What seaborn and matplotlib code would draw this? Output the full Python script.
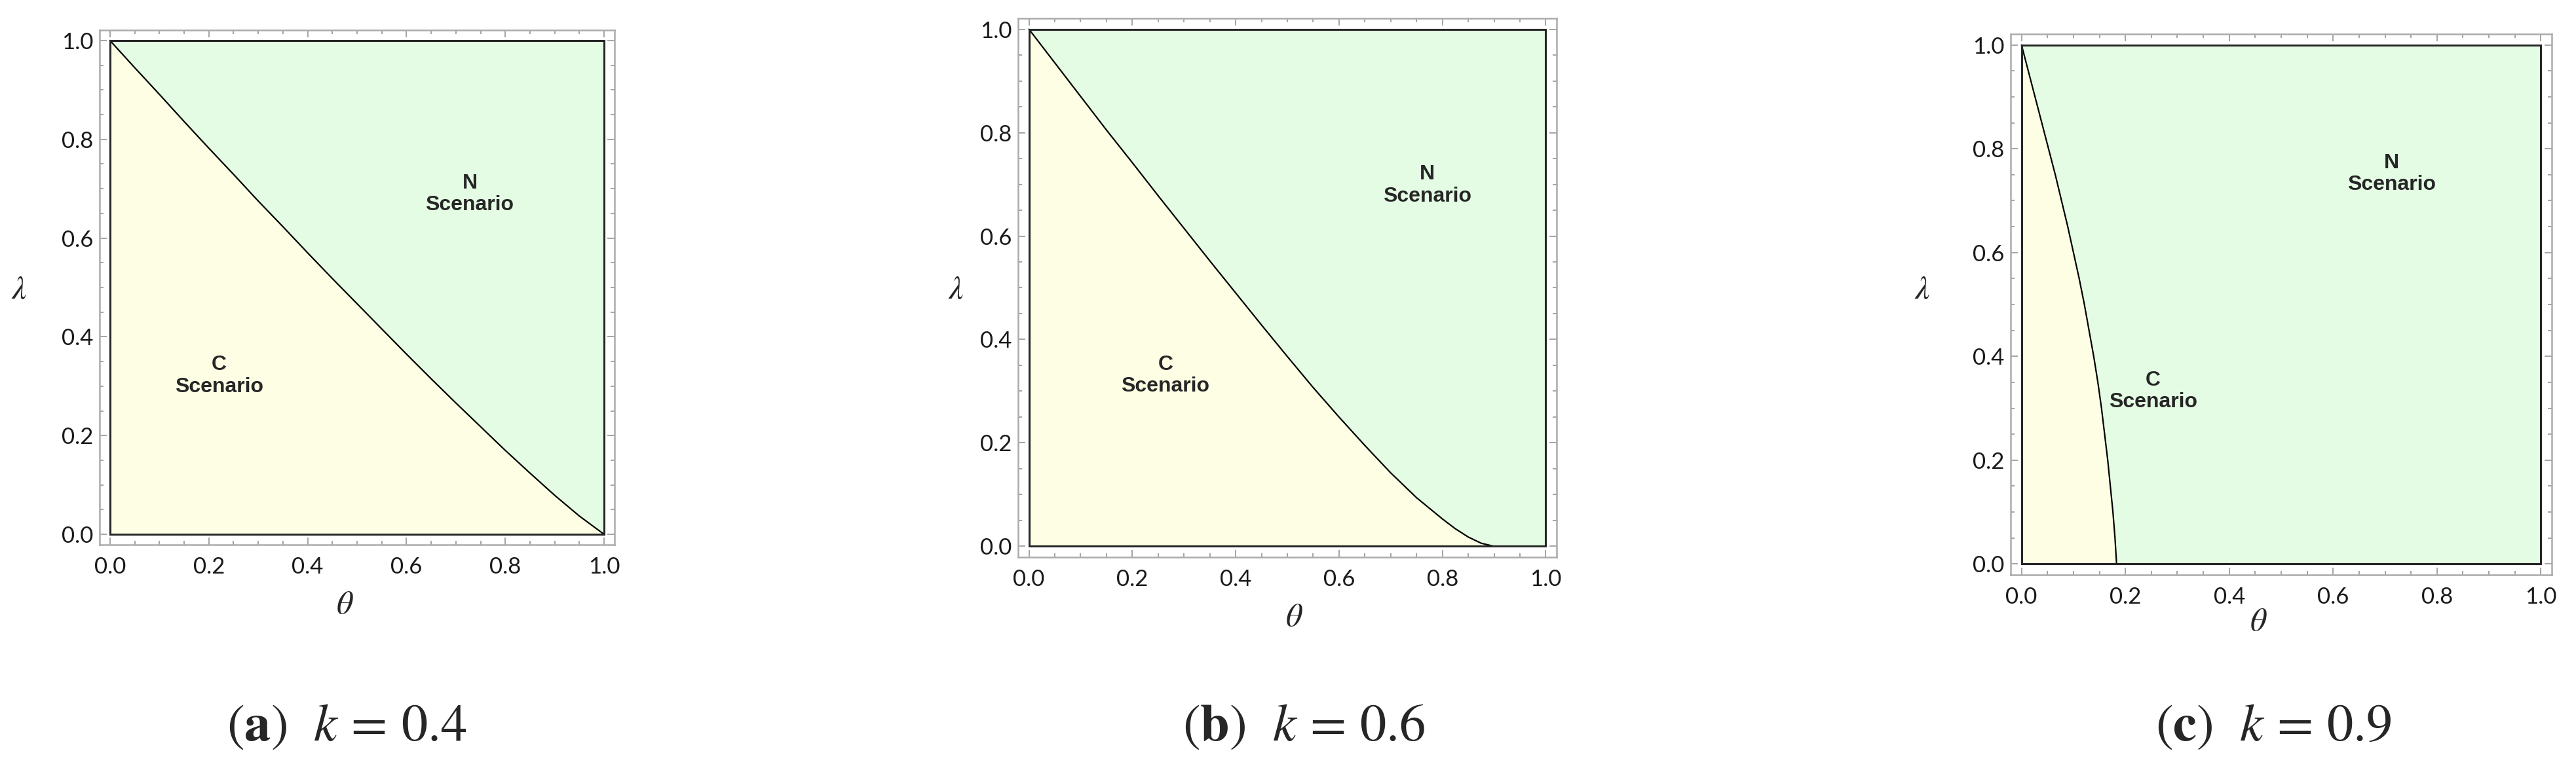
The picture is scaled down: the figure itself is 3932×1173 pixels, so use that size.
import numpy as np
import pandas as pd
import matplotlib
matplotlib.use("Agg")
import matplotlib.pyplot as plt
from matplotlib.ticker import MultipleLocator, FormatStrFormatter
from matplotlib.patches import Rectangle
import seaborn as sns

# ---------------- data ----------------
k_values = [0.4, 0.6, 0.9]
panel_letters = ["a", "b", "c"]

# panel (a): boundary lambda(theta)
theta_a = [0.0, 0.05, 0.1, 0.15, 0.2, 0.25, 0.3, 0.35, 0.4, 0.45, 0.5,
           0.55, 0.6, 0.65, 0.7, 0.75, 0.8, 0.85, 0.9, 0.95, 1.0]
lam_a = [1.0, 0.945, 0.891, 0.836, 0.782, 0.729, 0.675, 0.623, 0.570, 0.518, 0.467,
         0.416, 0.365, 0.315, 0.266, 0.218, 0.170, 0.124, 0.079, 0.037, 0.0]

# panel (b): boundary lambda(theta), reaches 0 at theta ~ 0.9
theta_b = [0.0, 0.05, 0.1, 0.15, 0.2, 0.25, 0.3, 0.35, 0.4, 0.45, 0.5,
           0.55, 0.6, 0.65, 0.7, 0.75, 0.8, 0.825, 0.85, 0.875, 0.9]
lam_b = [1.0, 0.935, 0.870, 0.805, 0.742, 0.678, 0.615, 0.552, 0.490, 0.428, 0.367,
         0.307, 0.250, 0.195, 0.142, 0.094, 0.053, 0.034, 0.018, 0.006, 0.0]

# panel (c): boundary theta(lambda)
lam_c = [1.0, 0.95, 0.9, 0.85, 0.8, 0.75, 0.7, 0.65, 0.6, 0.55, 0.5,
         0.45, 0.4, 0.35, 0.3, 0.25, 0.2, 0.15, 0.1, 0.05, 0.0]
theta_c = [0.0, 0.013, 0.026, 0.039, 0.052, 0.065, 0.077, 0.089, 0.100, 0.111, 0.121,
           0.130, 0.139, 0.147, 0.154, 0.160, 0.166, 0.171, 0.176, 0.180, 0.183]

region_labels = ["N\nScenario", "C\nScenario"]
# label anchor positions (theta, lambda) per panel
n_label_pos = [(0.728, 0.689), (0.771, 0.698), (0.713, 0.752)]
c_label_pos = [(0.221, 0.321), (0.264, 0.330), (0.253, 0.333)]

tick_values = [0.0, 0.2, 0.4, 0.6, 0.8, 1.0]

# ---------------- style ----------------
sns.set_theme(style="white")
plt.rcParams["font.family"] = ["Lato", "DejaVu Sans"]
plt.rcParams["mathtext.fontset"] = "stix"

YELLOW = "#FEFEE4"
GREEN = "#E4FCE4"
FRAME_GRAY = "#ABABAB"
TICK_GRAY = "#8C8C8C"

W, H = 3932, 1173
fig = plt.figure(figsize=(W / 100, H / 100), dpi=100)

# axes boxes in pixels: (left, top, width, height)
boxes = [(152, 46, 786, 786), (1554, 28, 822, 823), (3069, 52, 826, 826)]
lambda_pos = [(-0.156, 0.496), (-0.116, 0.497), (-0.163, 0.528)]
theta_pos = [(0.476, -0.116), (0.512, -0.111), (0.458, -0.086)]
caption_x = [529, 1990, 3470]
caption_baseline = 1131

pad = 0.021
for i in range(3):
    l, t, w, h = boxes[i]
    ax = fig.add_axes([l / W, 1 - (t + h) / H, w / W, h / H])
    ax.set_xlim(-pad, 1 + pad)
    ax.set_ylim(-pad, 1 + pad)

    # N region background, then C region
    ax.add_patch(Rectangle((0, 0), 1, 1, facecolor=GREEN, edgecolor="none", zorder=1))
    if i == 0:
        ax.fill_between(theta_a, 0, lam_a, color=YELLOW, lw=0, zorder=2)
        df = pd.DataFrame({"theta": theta_a, "lam": lam_a})
    elif i == 1:
        ax.fill_between(theta_b, 0, lam_b, color=YELLOW, lw=0, zorder=2)
        df = pd.DataFrame({"theta": theta_b, "lam": lam_b})
    else:
        ax.fill_betweenx(lam_c, 0, theta_c, color=YELLOW, lw=0, zorder=2)
        df = pd.DataFrame({"theta": theta_c, "lam": lam_c})
    sns.lineplot(data=df, x="theta", y="lam", ax=ax, color="black", lw=1.6,
                 sort=False, estimator=None, zorder=4)
    ax.add_patch(Rectangle((0, 0), 1, 1, facecolor="none", edgecolor="#262626",
                           lw=2.2, zorder=5))

    ax.text(*n_label_pos[i], region_labels[0], ha="center", va="center",
            fontsize=23, fontweight="bold", family="Liberation Sans",
            linespacing=1.15, zorder=6)
    ax.text(*c_label_pos[i], region_labels[1], ha="center", va="center",
            fontsize=23, fontweight="bold", family="Liberation Sans",
            linespacing=1.15, zorder=6)

    ax.set_xticks(tick_values)
    ax.set_yticks(tick_values)
    ax.xaxis.set_minor_locator(MultipleLocator(0.05))
    ax.yaxis.set_minor_locator(MultipleLocator(0.05))
    ax.xaxis.set_major_formatter(FormatStrFormatter("%.1f"))
    ax.yaxis.set_major_formatter(FormatStrFormatter("%.1f"))
    ax.tick_params(which="both", direction="in", top=True, right=True,
                   bottom=True, left=True, color=TICK_GRAY, width=1.1)
    ax.tick_params(which="major", length=8)
    ax.tick_params(which="minor", length=4.3)
    ax.tick_params(axis="x", which="major", pad=13, labelsize=25, labelcolor="#1a1a1a")
    ax.tick_params(axis="y", which="major", pad=7, labelsize=25, labelcolor="#1a1a1a")
    for s in ax.spines.values():
        s.set_visible(True)
        s.set_color(FRAME_GRAY)
        s.set_linewidth(1.8)
    ax.set_xlabel("")
    ax.set_ylabel("")
    ax.grid(False)
    ax.set_facecolor("white")

    ax.text(*lambda_pos[i], r"$\lambda$", transform=ax.transAxes, ha="center",
            va="center", fontsize=36)
    ax.text(*theta_pos[i], r"$\theta$", transform=ax.transAxes, ha="center",
            va="center", fontsize=36)

    fig.text(caption_x[i] / W, 1 - caption_baseline / H,
             r"$(\mathbf{%s})\ \ k\,=\,%s$" % (panel_letters[i], k_values[i]),
             ha="center", va="baseline", fontsize=58)

fig.savefig("out.png", dpi=100, facecolor="white")
